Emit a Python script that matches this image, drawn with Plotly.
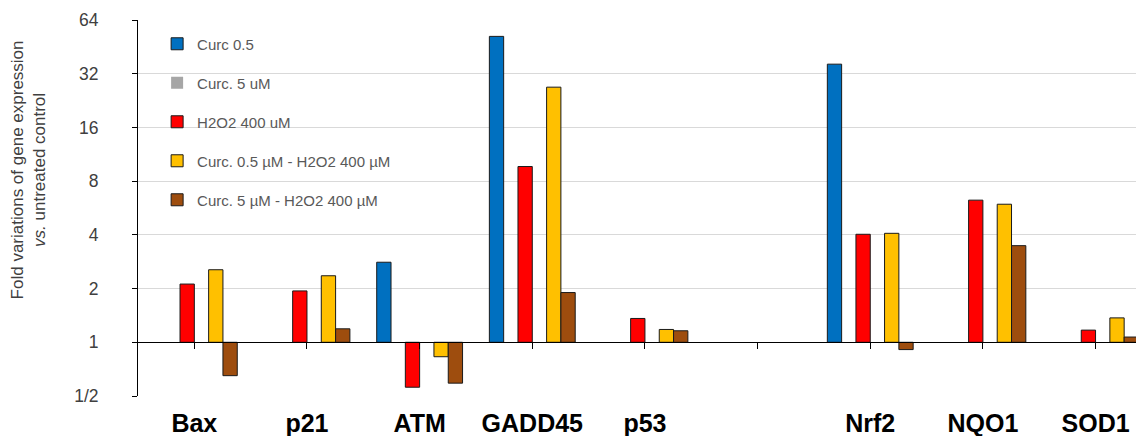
import math
import plotly.graph_objects as go

categories = ["Bax", "p21", "ATM", "GADD45", "p53", " ", "Nrf2", "NQO1", "SOD1"]
series_names = ["Curc 0.5", "Curc. 5 uM", "H2O2 400 uM",
                "Curc. 0.5 µM - H2O2 400 µM", "Curc. 5 µM - H2O2 400 µM"]
curc_05 = [1, 1, 2.81, 51.8, 1, None, 36.2, 1, 1]
curc_5 = [1, 1, 1, 1, 1, None, 1, 1, 1]
h2o2_400 = [2.12, 1.94, 0.56, 9.66, 1.36, None, 4.03, 6.26, 1.17]
curc05_h2o2 = [2.55, 2.36, 0.83, 26.9, 1.18, None, 4.08, 5.94, 1.37]
curc5_h2o2 = [0.65, 1.19, 0.59, 1.90, 1.16, None, 0.91, 3.48, 1.07]
y_tickvals = [0.5, 1, 2, 4, 8, 16, 32, 64]
y_ticktext = ["1/2", "1", "2", "4", "8", "16", "32", "64"]

colors = ["#0070C0", "#A6A6A6", "#FF0000", "#FFC000", "#9E4D0E"]
slots = [0, 1, 2, 4, 5]
series = [curc_05, curc_5, h2o2_400, curc05_h2o2, curc5_h2o2]

BASE = 1.0
bw = 0.127
FONT = "Liberation Sans, Arial, sans-serif"

fig = go.Figure()
for i, (name, vals) in enumerate(zip(series_names, series)):
    if i == 1:
        ys = [None if v is None else v - BASE for v in vals]
    else:
        ys = [None if (v is None or v == BASE) else v - BASE for v in vals]
    line_w = 0 if i == 1 else 1
    fig.add_trace(go.Bar(
        x=categories, y=ys, base=BASE, name=name,
        width=bw, offset=-3 * bw + slots[i] * bw,
        marker=dict(color=colors[i], line=dict(color="#1a1a1a", width=line_w)),
        legendgroup=f"g{i}",
        xaxis="x2" if i == 1 else "x",
    ))

yr = [math.log10(0.5), math.log10(64)]
pos_one = (math.log10(1) - yr[0]) / (yr[1] - yr[0])
xr = [-0.5, 8.43]

fig.update_layout(
    width=1136, height=428,
    margin=dict(l=130, r=0, t=12, b=40),
    paper_bgcolor="white", plot_bgcolor="white",
    barmode="overlay",
    font=dict(family=FONT, color="#595959"),
    showlegend=True,
    legend=dict(x=0.019, y=0.98, xanchor="left", yanchor="top",
                font=dict(size=15, color="#595959"),
                tracegroupgap=16.5, traceorder="grouped",
                bgcolor="rgba(0,0,0,0)"),
    xaxis=dict(type="category", categoryorder="array", categoryarray=categories,
               range=xr, showline=False, showgrid=False, ticks="",
               tickfont=dict(size=25, color="black", family=FONT, weight="bold"),
               ticklabelstandoff=10),
    xaxis2=dict(type="category", categoryorder="array", categoryarray=categories,
                range=xr, overlaying="x", anchor="free", position=pos_one,
                showline=True, linecolor="black", linewidth=1,
                ticks="outside", ticklen=6, tickcolor="black", tickwidth=1,
                showticklabels=False, showgrid=False),
    yaxis=dict(type="log", range=yr, tickvals=y_tickvals, ticktext=y_ticktext,
               showline=True, linecolor="black", linewidth=1,
               ticks="outside", ticklen=5, tickcolor="black",
               showgrid=True, gridcolor="#D9D9D9", gridwidth=1,
               tickfont=dict(size=17.5, color="#404040"),
               ticklabelstandoff=30),
    annotations=[dict(
        text="Fold variations of gene expression<br><i>vs.</i> untreated control",
        xref="paper", yref="paper", x=0, y=0.60, xshift=-110,
        xanchor="center", yanchor="middle", textangle=-90, showarrow=False,
        font=dict(size=17, color="#404040"), align="center")],
)

fig.write_html("out.html")
